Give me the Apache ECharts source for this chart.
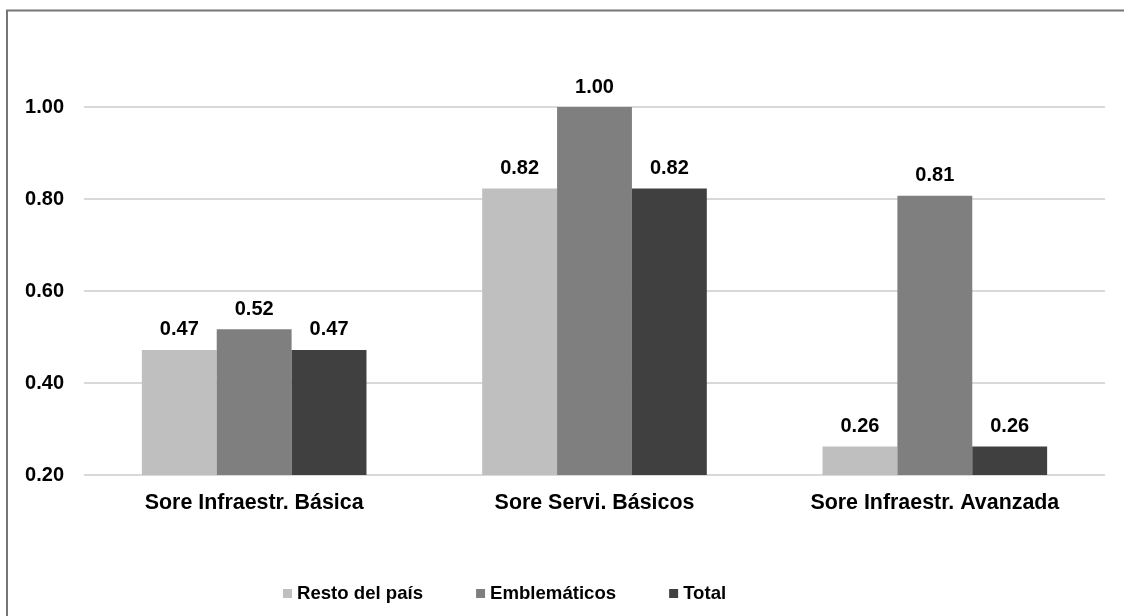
<!DOCTYPE html>
<html>
<head>
<meta charset="utf-8">
<script src="https://cdn.jsdelivr.net/npm/echarts@6/dist/echarts.min.js"></script>
<style>
  html, body { margin: 0; padding: 0; background: #ffffff; }
  #chart { width: 1124px; height: 616px; }
</style>
</head>
<body>
<div id="chart"></div>
<script>
// Index scores by group
const categories = ['Sore Infraestr. Básica', 'Sore Servi. Básicos', 'Sore Infraestr. Avanzada'];
const restoDelPais = [0.472, 0.823, 0.262];
const emblematicos = [0.517, 1.0, 0.807];
const total = [0.472, 0.823, 0.262];
const seriesNames = ['Resto del país', 'Emblemáticos', 'Total'];
const seriesColors = ['#BFBFBF', '#7F7F7F', '#404040'];

const font = 'Liberation Sans, Arial, sans-serif';
const fs = 20;

const chart = echarts.init(document.getElementById('chart'));

function barSeries(name, data, color) {
  return {
    name: name,
    type: 'bar',
    data: data,
    barGap: '0%',
    barCategoryGap: '34%',
    itemStyle: { color: color },
    label: {
      show: true,
      position: 'top',
      distance: 10,
      color: '#000',
      fontFamily: font,
      fontWeight: 'bold',
      fontSize: fs,
      formatter: p => p.value.toFixed(2)
    }
  };
}

chart.setOption({
  animation: false,
  backgroundColor: '#ffffff',
  grid: { left: 84, right: 19, top: 107, bottom: 141 },
  legend: {
    top: 579,
    left: 278,
    itemWidth: 9,
    itemHeight: 9,
    itemGap: 53,
    icon: 'rect',
    textStyle: { fontFamily: font, fontWeight: 'bold', fontSize: 18.6, color: '#000' },
    data: seriesNames
  },
  xAxis: {
    type: 'category',
    data: categories,
    axisLine: { show: false },
    axisTick: { show: false },
    axisLabel: {
      margin: 18,
      color: '#000',
      fontFamily: font,
      fontWeight: 'bold',
      fontSize: 21.4
    }
  },
  yAxis: {
    type: 'value',
    min: 0.2,
    max: 1.0,
    interval: 0.2,
    axisLine: { show: false },
    axisTick: { show: false },
    splitLine: { lineStyle: { color: '#D9D9D9', width: 2 } },
    axisLabel: {
      margin: 20,
      color: '#000',
      fontFamily: font,
      fontWeight: 'bold',
      fontSize: fs,
      formatter: v => v.toFixed(2)
    }
  },
  graphic: [{
    type: 'polyline',
    shape: { points: [[7, 616], [7, 10.5], [1124, 10.5]] },
    style: { stroke: '#767676', lineWidth: 2, fill: null }
  }],
  series: [
    barSeries(seriesNames[0], restoDelPais, seriesColors[0]),
    barSeries(seriesNames[1], emblematicos, seriesColors[1]),
    barSeries(seriesNames[2], total, seriesColors[2])
  ]
});
</script>
</body>
</html>
